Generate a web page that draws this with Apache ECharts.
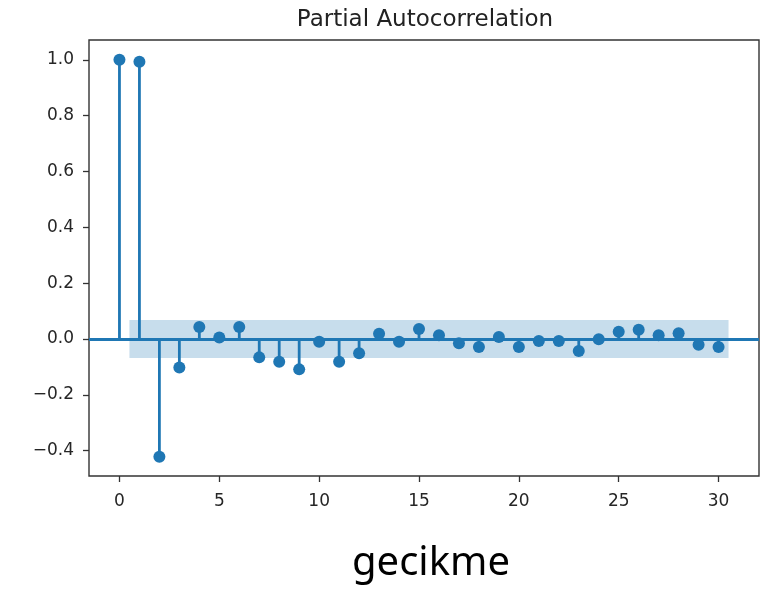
<!DOCTYPE html>
<html>
<head>
<meta charset="utf-8">
<script src="https://cdn.jsdelivr.net/npm/echarts@6/dist/echarts.min.js"></script>
<style>
	html, body { margin: 0; padding: 0; background: #fff; }
	#chart { width: 774px; height: 592px; }
</style>
</head>
<body>
<div id="chart"></div>
<script>
var lags = [0, 1, 2, 3, 4, 5, 6, 7, 8, 9, 10, 11, 12, 13, 14, 15,
	16, 17, 18, 19, 20, 21, 22, 23, 24, 25, 26, 27, 28, 29, 30];
var pacf = [1.0, 0.993, -0.422, -0.102, 0.043, 0.005, 0.043, -0.066, -0.082, -0.109, -0.01,
	-0.082, -0.051, 0.019, -0.01, 0.036, 0.013, -0.015, -0.029, 0.007, -0.029,
	-0.007, -0.007, -0.043, -0.001, 0.026, 0.033, 0.013, 0.02, -0.021, -0.029];
var confLimit = 0.068;
var bandRange = [0.5, 30.5];
var xTicks = [0, 5, 10, 15, 20, 25, 30];
var yTicks = [-0.4, -0.2, 0.0, 0.2, 0.4, 0.6, 0.8, 1.0];

var blue = '#1f77b4';
var points = lags.map(function (l, i) { return [l, pacf[i]]; });

var chart = echarts.init(document.getElementById('chart'));
chart.setOption({
	animation: false,
	grid: {
		left: 89, top: 40, width: 670, height: 436,
		show: true, borderColor: '#333', borderWidth: 1.4, backgroundColor: 'transparent'
	},
	graphic: [
		{
			type: 'text', x: 425, y: 20,
			style: {
				text: 'Partial Autocorrelation', fill: '#222',
				font: '23px "DejaVu Sans"', textAlign: 'center', textVerticalAlign: 'middle'
			}
		},
		{
			type: 'text', x: 431, y: 564,
			style: {
				text: 'gecikme', fill: '#000',
				font: '40px "Noto Sans"', textAlign: 'center', textVerticalAlign: 'middle'
			}
		}
	],
	xAxis: {
		type: 'value', min: -1.525, max: 32.025,
		splitLine: { show: false },
		axisLine: { show: false, onZero: false },
		axisTick: { show: true, length: 6, lineStyle: { color: '#333', width: 1.3 }, customValues: xTicks },
		axisLabel: {
			customValues: xTicks, margin: 17, color: '#262626',
			fontFamily: 'DejaVu Sans', fontSize: 17
		}
	},
	yAxis: {
		type: 'value', min: -0.491, max: 1.071,
		splitLine: { show: false },
		axisLine: { show: false, onZero: false },
		axisTick: { show: true, length: 6, lineStyle: { color: '#333', width: 1.3 }, customValues: yTicks },
		axisLabel: {
			customValues: yTicks, margin: 15, color: '#262626',
			fontFamily: 'DejaVu Sans', fontSize: 17,
			formatter: function (v) { return v.toFixed(1).replace('-', '\u2212'); }
		}
	},
	series: [
		{
			// confidence band
			type: 'custom',
			z: 1,
			silent: true,
			data: [[bandRange[0], bandRange[1], confLimit]],
			renderItem: function (params, api) {
				var p1 = api.coord([api.value(0), api.value(2)]);
				var p2 = api.coord([api.value(1), -api.value(2)]);
				return {
					type: 'rect',
					shape: { x: p1[0], y: p1[1], width: p2[0] - p1[0], height: p2[1] - p1[1] },
					style: { fill: blue, opacity: 0.25 }
				};
			}
		},
		{
			// stems
			type: 'custom',
			z: 3,
			silent: true,
			data: points,
			renderItem: function (params, api) {
				var top = api.coord([api.value(0), api.value(1)]);
				var base = api.coord([api.value(0), 0]);
				return {
					type: 'line',
					shape: { x1: base[0], y1: base[1], x2: top[0], y2: top[1] },
					style: { stroke: blue, lineWidth: 2.8 }
				};
			},
			markLine: {
				silent: true,
				symbol: 'none',
				label: { show: false },
				lineStyle: { color: blue, width: 2.8, type: 'solid' },
				data: [{ yAxis: 0 }]
			}
		},
		{
			type: 'scatter',
			z: 4,
			data: points,
			symbolSize: 12,
			itemStyle: { color: blue, opacity: 1 }
		}
	]
});
</script>
</body>
</html>
